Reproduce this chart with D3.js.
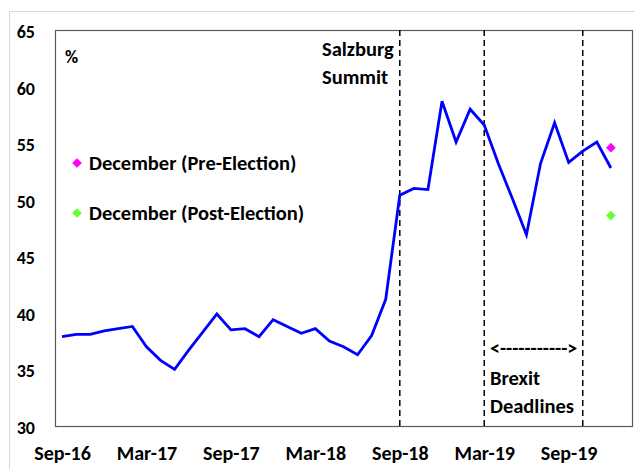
<!DOCTYPE html>
<html>
<head>
<meta charset="utf-8">
<script src="https://cdn.jsdelivr.net/npm/d3@7"></script>
<style>
  body { margin: 0; background: #fff; }
  svg text { font-family: Carlito, Calibri, Lato, sans-serif; font-weight: 700; fill: #000; }
</style>
</head>
<body>
<div id="chart-area"></div>
<script>
/* data */
const months = ["Sep-16","Oct-16","Nov-16","Dec-16","Jan-17","Feb-17","Mar-17","Apr-17","May-17","Jun-17",
  "Jul-17","Aug-17","Sep-17","Oct-17","Nov-17","Dec-17","Jan-18","Feb-18","Mar-18","Apr-18",
  "May-18","Jun-18","Jul-18","Aug-18","Sep-18","Oct-18","Nov-18","Dec-18","Jan-19","Feb-19",
  "Mar-19","Apr-19","May-19","Jun-19","Jul-19","Aug-19","Sep-19","Oct-19","Nov-19","Dec-19","Jan-20"]
const values = [37.9, 38.1, 38.1, 38.4, 38.6, 38.8, 37.0, 35.8, 35.0, 36.7,
  38.3, 39.9, 38.5, 38.6, 37.9, 39.4, 38.8, 38.2, 38.6, 37.5,
  37.0, 36.3, 38.0, 41.2, 50.4, 51.0, 50.9, 58.7, 55.1, 58.0,
  56.6, 53.2, 50.1, 46.9, 53.2, 56.8, 53.3, 54.3, 55.1, 52.8]
const tickMonths = ["Sep-16","Mar-17","Sep-17","Mar-18","Sep-18","Mar-19","Sep-19"]
const yTicks = [30, 35, 40, 45, 50, 55, 60, 65]
const eventMonths = ["Sep-18", "Mar-19", "Oct-19"]
const decPoints = [
  { label: "December (Pre-Election)", month: "Dec-19", value: 54.6, color: "#ff00ff" },
  { label: "December (Post-Election)", month: "Dec-19", value: 48.6, color: "#66ff33" }
]

/* chart area */
const W = 635, H = 469
const PLOT = { LEFT: 55, RIGHT: 632, TOP: 30, BOTTOM: 426 }

const svg = d3.select("#chart-area").append("svg")
    .attr("width", W)
    .attr("height", H)

// faint outer frame
svg.append("rect")
    .attr("x", 9.5).attr("y", 11.5)
    .attr("width", 640).attr("height", 470)
    .attr("fill", "none")
    .attr("stroke", "#d9d9d9")

// scales
const x = d3.scalePoint()
    .domain(months)
    .range([PLOT.LEFT, PLOT.RIGHT])
    .padding(0.5)

const y = d3.scaleLinear()
    .domain([30, 65])
    .range([PLOT.BOTTOM, PLOT.TOP])

// plot box
svg.append("rect")
    .attr("x", PLOT.LEFT + 0.5).attr("y", PLOT.TOP + 0.5)
    .attr("width", PLOT.RIGHT - PLOT.LEFT).attr("height", PLOT.BOTTOM - PLOT.TOP)
    .attr("fill", "none")
    .attr("stroke", "#595959")
    .attr("stroke-width", 1.2)

// axes
const yAxis = svg.append("g")
    .attr("transform", `translate(${PLOT.LEFT},0)`)
    .call(d3.axisLeft(y).tickValues(yTicks).tickSize(0).tickPadding(20))
yAxis.select(".domain").remove()
yAxis.selectAll("text")
    .attr("dy", "0.42em")
    .style("font-size", "18px")
    .style("font-family", null)

const xAxis = svg.append("g")
    .attr("transform", `translate(0,${PLOT.BOTTOM})`)
    .call(d3.axisBottom(x).tickValues(tickMonths).tickSize(0).tickPadding(20))
xAxis.select(".domain").remove()
xAxis.selectAll("text")
    .style("font-size", "20px")
    .style("font-family", null)

// event lines
svg.selectAll(".event")
    .data(eventMonths)
    .enter().append("line")
    .attr("class", "event")
    .attr("x1", d => x(d)).attr("x2", d => x(d))
    .attr("y1", PLOT.TOP).attr("y2", PLOT.BOTTOM)
    .attr("stroke", "#000")
    .attr("stroke-width", 1.5)
    .attr("stroke-dasharray", "6,4")

// main line
const line = d3.line()
    .x((d, i) => x(months[i]))
    .y(d => y(d))

svg.append("path")
    .datum(values)
    .attr("d", line)
    .attr("fill", "none")
    .attr("stroke", "#0000ff")
    .attr("stroke-width", 2.8)
    .attr("stroke-linejoin", "miter")

// december markers
const diamond = d3.symbol().type(d3.symbolDiamond2).size(60)
svg.selectAll(".dec")
    .data(decPoints)
    .enter().append("path")
    .attr("class", "dec")
    .attr("d", diamond)
    .attr("transform", d => `translate(${x(d.month)},${y(d.value)})`)
    .attr("fill", d => d.color)

// legend
const legend = svg.selectAll(".legend")
    .data(decPoints)
    .enter().append("g")
    .attr("class", "legend")
    .attr("transform", (d, i) => `translate(77,${163 + i * 50})`)
legend.append("path")
    .attr("d", diamond)
    .attr("fill", d => d.color)
legend.append("text")
    .attr("x", 12).attr("y", 7)
    .style("font-size", "20.5px")
    .text(d => d.label)

// annotations
svg.append("text").attr("x", 65).attr("y", 63).style("font-size", "18px").text("%")
svg.append("text").attr("x", 322).attr("y", 56).style("font-size", "20.5px").text("Salzburg")
svg.append("text").attr("x", 322).attr("y", 84).style("font-size", "20.5px").text("Summit")
svg.append("text").attr("x", 490).attr("y", 355).style("font-size", "20px").text("<----------->")
svg.append("text").attr("x", 490).attr("y", 385).style("font-size", "20.5px").text("Brexit")
svg.append("text").attr("x", 490).attr("y", 413).style("font-size", "20.5px").text("Deadlines")
</script>
</body>
</html>
